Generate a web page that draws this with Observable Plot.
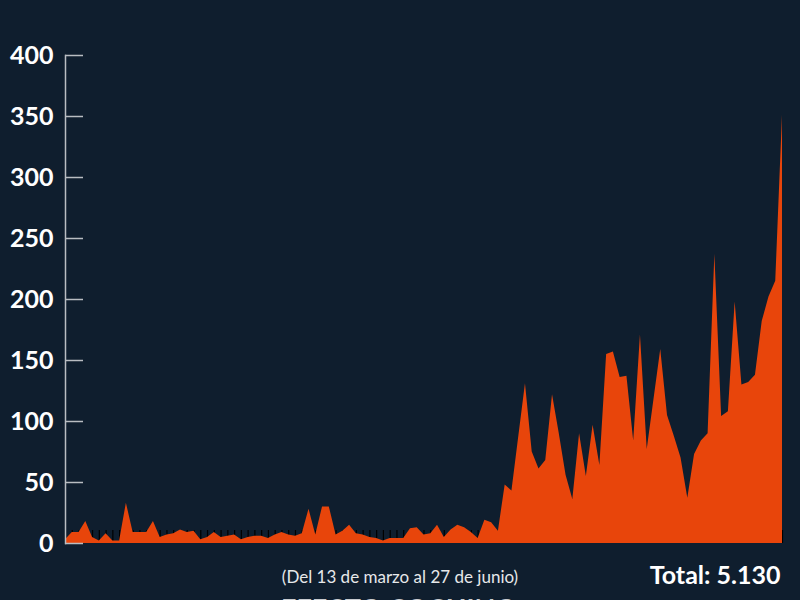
<!DOCTYPE html>
<html>
<head>
<meta charset="utf-8">
<script src="https://cdn.jsdelivr.net/npm/d3@7"></script>
<script src="https://cdn.jsdelivr.net/npm/@observablehq/plot@0.6"></script>
<style>
  html, body { margin: 0; padding: 0; background: #0f1e2e; width: 800px; height: 600px; overflow: hidden; }
</style>
</head>
<body>
<div id="chart"></div>
<script>
// Daily values, 13 March to 27 June
const startDay = "2020-03-13";
const endDay = "2020-06-27";
const values = [
  3, 9, 9, 18, 5, 2, 8, 2, 2, 33,
  9, 9, 9, 18, 5, 7, 8, 11, 9, 10,
  3, 5, 9, 5, 6, 7, 3, 5, 6, 6,
  4, 7, 9, 7, 6, 8, 28, 7, 30, 30,
  7, 10, 15, 8, 7, 5, 4, 2, 4, 4,
  4, 12, 13, 7, 8, 15, 5, 11, 15, 13,
  9, 4, 19, 17, 10, 48, 43, 87, 131, 75,
  61, 68, 122, 90, 56, 36, 90, 55, 97, 64,
  155, 157, 136, 137, 84, 171, 77, 118, 159, 105,
  88, 70, 37, 73, 84, 90, 237, 104, 108, 198,
  130, 132, 138, 182, 202, 215, 351
];
const yTicks = [0, 50, 100, 150, 200, 250, 300, 350, 400];
const subtitle = "(Del 13 de marzo al 27 de junio)";
const totalLabel = "Total: 5.130";
const footer = "EFECTO COCHINO";

const start = new Date(startDay);
const end = new Date(endDay);
const dates = d3.utcDay.range(start, d3.utcDay.offset(end, 1));
const data = dates.map((d, i) => ({date: d, value: values[i]}));

const navy = "#0f1e2e";
const orange = "#e8450b";
const axisGray = "#b9bdc2";

const chart = Plot.plot({
  width: 800,
  height: 600,
  marginLeft: 65,
  marginRight: 18,
  marginTop: 55,
  marginBottom: 57,
  style: {background: navy, fontFamily: "Lato, sans-serif", overflow: "visible"},
  x: {type: "utc", domain: [start, end]},
  y: {domain: [0, 400]},
  marks: [
    Plot.axisX({ticks: dates, tickSize: -13, stroke: "#000", strokeWidth: 1.2, tickFormat: () => "", label: null}),
    Plot.areaY(data, {x: "date", y: "value", fill: orange, curve: "linear"}),
    Plot.frame({anchor: "left", stroke: axisGray, strokeWidth: 1.5}),
    Plot.axisY({ticks: yTicks, tickSize: -18, tickPadding: 30, stroke: axisGray, strokeWidth: 1.5,
      fill: "#ffffff", fontSize: 25, fontWeight: "bold", label: null, tickFormat: d => d}),
    Plot.text([subtitle], {frameAnchor: "bottom", dx: -24, dy: 39, fill: "#e6e8ea", fontSize: 17, fontFamily: "Lato, sans-serif"}),
    Plot.text([totalLabel], {frameAnchor: "bottom-right", textAnchor: "end", dx: -2, dy: 40, fill: "#ffffff", fontSize: 25, fontWeight: "bold", fontFamily: "Lato, sans-serif"}),
    Plot.text([footer], {frameAnchor: "bottom", dx: -25, dy: 74, fill: "#c9ccd0", fontSize: 27, fontWeight: "bold", fontFamily: "Lato, sans-serif"})
  ]
});
document.getElementById("chart").appendChild(chart);
</script>
</body>
</html>
